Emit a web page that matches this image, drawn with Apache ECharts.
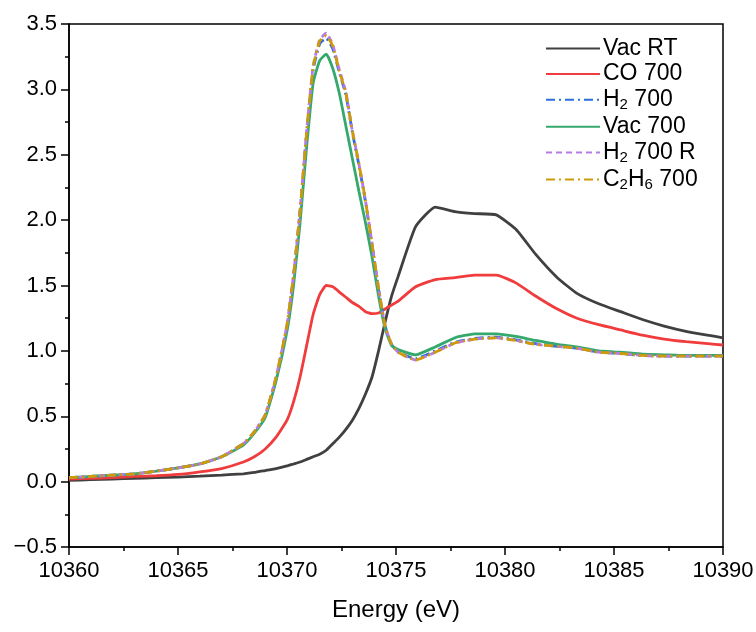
<!DOCTYPE html>
<html>
<head>
<meta charset="utf-8">
<script src="https://cdn.jsdelivr.net/npm/echarts@6/dist/echarts.min.js"></script>
<style>html,body{margin:0;padding:0;background:#fff}#c{width:756px;height:632px}</style>
</head>
<body>
<div id="c"></div>
<script>
const energy = [10360,10361,10362,10363,10364,10365,10366,10367,10368,10368.5,10369,10369.5,10370,10370.3,10370.6,10370.9,10371.2,10371.5,10371.8,10372.1,10372.4,10372.7,10373.0,10373.3,10373.6,10373.9,10374.2,10374.5,10374.8,10375.1,10375.9,10376.8,10377.7,10378.6,10379.6,10380.5,10381.4,10382.4,10383.3,10384.3,10385.3,10386.3,10387.3,10388.3,10389.3,10390];

const vacRT = [0.01,0.015,0.02,0.025,0.03,0.035,0.042,0.05,0.06,0.07,0.085,0.10,0.12,0.135,0.15,0.17,0.19,0.21,0.24,0.29,0.34,0.40,0.47,0.56,0.67,0.80,1.00,1.22,1.42,1.57,1.95,2.10,2.065,2.05,2.04,1.93,1.74,1.56,1.44,1.36,1.30,1.24,1.19,1.15,1.12,1.10];
const co700 = [0.02,0.025,0.03,0.04,0.045,0.055,0.075,0.10,0.15,0.19,0.25,0.34,0.47,0.61,0.80,1.04,1.28,1.43,1.50,1.49,1.45,1.41,1.37,1.34,1.30,1.285,1.29,1.32,1.35,1.38,1.49,1.545,1.56,1.58,1.58,1.52,1.42,1.32,1.25,1.20,1.16,1.12,1.09,1.07,1.055,1.045];
const h2700 = [0.03,0.04,0.05,0.06,0.08,0.105,0.135,0.19,0.29,0.38,0.51,0.79,1.19,1.57,2.06,2.66,3.15,3.35,3.39,3.31,3.13,2.96,2.67,2.42,2.14,1.81,1.47,1.19,1.05,0.99,0.94,1.00,1.065,1.095,1.105,1.085,1.055,1.035,1.02,0.99,0.98,0.965,0.96,0.96,0.96,0.96];
const vac700 = [0.03,0.04,0.05,0.06,0.08,0.105,0.135,0.19,0.28,0.37,0.49,0.77,1.15,1.50,1.98,2.56,3.05,3.22,3.27,3.16,2.97,2.72,2.47,2.22,1.98,1.72,1.42,1.17,1.04,1.01,0.97,1.03,1.10,1.13,1.13,1.11,1.08,1.05,1.03,1.00,0.99,0.975,0.97,0.965,0.965,0.965];
const h2700R = [0.03,0.04,0.05,0.06,0.08,0.105,0.135,0.19,0.29,0.38,0.51,0.80,1.20,1.58,2.08,2.68,3.18,3.38,3.43,3.34,3.15,2.98,2.68,2.43,2.15,1.82,1.48,1.19,1.05,0.99,0.93,0.99,1.06,1.09,1.10,1.08,1.05,1.035,1.02,0.99,0.98,0.965,0.96,0.96,0.96,0.96];
const c2h6700 = [0.03,0.04,0.05,0.06,0.08,0.105,0.135,0.19,0.29,0.38,0.51,0.80,1.20,1.58,2.07,2.67,3.17,3.37,3.41,3.33,3.14,2.97,2.68,2.43,2.15,1.82,1.48,1.19,1.05,0.99,0.93,0.99,1.06,1.09,1.10,1.08,1.05,1.035,1.02,0.99,0.98,0.965,0.96,0.96,0.96,0.96];

const seriesNames = ['Vac RT','CO 700','H2 700','Vac 700','H2 700 R','C2H6 700'];
const seriesData = [vacRT, co700, h2700, vac700, h2700R, c2h6700];
const colors = ['#404040','#f03c3c','#2a6ee0','#35a86b','#b57be6','#cf9a08'];
const dashes = ['solid','solid',[9,4,2,4],'solid',[6,4],[9,4,2,4]];

const xTicks = {min:10360,max:10390,interval:5};
const yTicks = {min:-0.5,max:3.5,interval:0.5};

const chart = echarts.init(document.getElementById('c'), null, {renderer:'canvas'});
const font = 'Liberation Sans, Arial, sans-serif';

function legendFmt(name){
  if(name==='H2 700') return '{a|H}{s|2}{a| 700}';
  if(name==='H2 700 R') return '{a|H}{s|2}{a| 700 R}';
  if(name==='C2H6 700') return '{a|C}{s|2}{a|H}{s|6}{a| 700}';
  return '{a|'+name+'}';
}

chart.setOption({
  animation:false,
  backgroundColor:'#fff',
  grid:{left:69,right:33,top:24,bottom:85,outerBoundsMode:'none',containLabel:false,show:true,borderColor:'#000',borderWidth:1.5,backgroundColor:'transparent'},
  legend:{
    data:seriesNames,
    orient:'vertical',
    left:540, top:32,
    itemWidth:54, itemHeight:14, itemGap:2.6,
    formatter:legendFmt,
    itemStyle:{opacity:0},
    textStyle:{
      fontFamily:font,fontSize:23,color:'#000',padding:[0,0,0,-2],
      rich:{
        a:{fontFamily:font,fontSize:23,color:'#000'},
        s:{fontFamily:font,fontSize:15,color:'#000',padding:[11,0,0,0]}
      }
    }
  },
  xAxis:{
    type:'value',min:xTicks.min,max:xTicks.max,interval:xTicks.interval,
    name:'Energy (eV)',nameLocation:'middle',nameGap:51,
    nameTextStyle:{fontFamily:font,fontSize:24,color:'#000'},
    axisLine:{show:true,onZero:false,lineStyle:{color:'#000',width:1.5}},
    axisTick:{show:true,inside:false,length:8,lineStyle:{color:'#000',width:1.5}},
    minorTick:{show:true,splitNumber:2,length:4,lineStyle:{color:'#000',width:1.5}},
    axisLabel:{fontFamily:font,fontSize:22,color:'#000',margin:13,formatter:v=>String(v)},
    splitLine:{show:false}
  },
  yAxis:{
    type:'value',min:yTicks.min,max:yTicks.max,interval:yTicks.interval,
    axisLine:{show:true,onZero:false,lineStyle:{color:'#000',width:1.5}},
    axisTick:{show:true,inside:false,length:8,lineStyle:{color:'#000',width:1.5}},
    minorTick:{show:true,splitNumber:2,length:4,lineStyle:{color:'#000',width:1.5}},
    axisLabel:{fontFamily:font,fontSize:22,color:'#000',margin:12,
      formatter:v=>(v<0?'\u2212':'')+Math.abs(v).toFixed(1)},
    splitLine:{show:false}
  },
  series:seriesNames.map((n,i)=>({
    name:n,type:'line',showSymbol:false,symbol:'none',
    data:energy.map((e,k)=>[e,seriesData[i][k]]),
    smooth:0.15,
    lineStyle:{color:colors[i],width:2.8,type:dashes[i]},
    itemStyle:{color:colors[i]},
    emphasis:{disabled:true}
  }))
});
</script>
</body>
</html>
